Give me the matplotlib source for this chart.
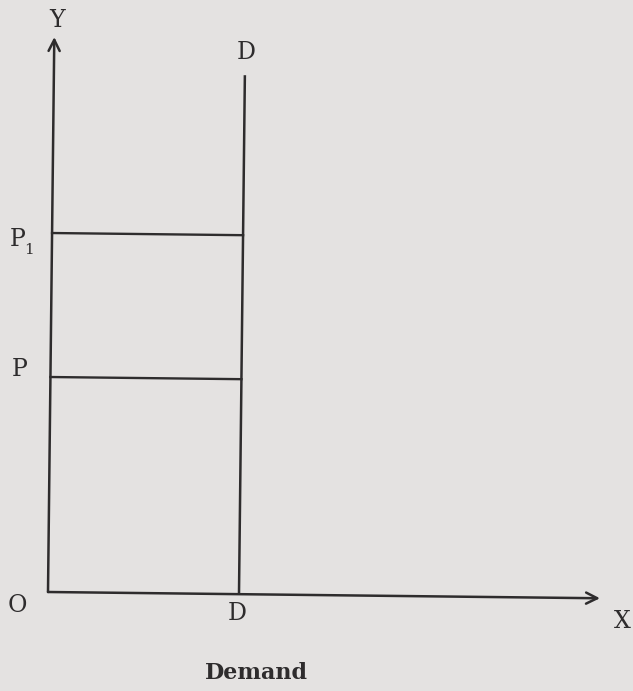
import matplotlib
matplotlib.use("Agg")
import matplotlib.pyplot as plt
from matplotlib.transforms import Affine2D

# ── diagram values (arbitrary units, origin at O) ───────────────────────────
quantity_D = 191      # fixed quantity demanded (vertical demand curve)
price_levels = [215, 359]          # P, P1
price_labels = ["P", "P"]
demand_top = 519
y_axis_top = 555
x_axis_end = 552

plt.rcParams.update({
    "font.family": "DejaVu Serif",
})

bg = "#e4e2e1"
ink = "#2e2c2d"

fig = plt.figure(figsize=(6.33, 6.91), dpi=100, facecolor=bg)
ax = fig.add_axes([0, 0, 1, 1])
ax.set_facecolor(bg)
ax.set_xlim(-48, 585)
ax.set_ylim(-99, 592)
ax.axis("off")

# slight skew like the scanned page
tilt = Affine2D().rotate_deg(-0.65) + ax.transData

# axes with open arrowheads
arrow = dict(arrowstyle="->,head_length=0.8,head_width=0.4", color=ink, lw=1.8,
             shrinkA=0, shrinkB=0)
ax.annotate("", xy=(0, y_axis_top), xytext=(0, 0), xycoords=tilt,
            textcoords=tilt, arrowprops=arrow)
ax.annotate("", xy=(x_axis_end, 0), xytext=(0, 0), xycoords=tilt,
            textcoords=tilt, arrowprops=arrow)

# vertical demand curve DD
ax.plot([quantity_D, quantity_D], [0, demand_top], color=ink, lw=1.8,
        transform=tilt, solid_capstyle="butt")

# price lines
for p in price_levels:
    ax.plot([0, quantity_D], [p, p], color=ink, lw=1.7, transform=tilt)

fs = 17
ax.text(9, 560, "Y", ha="center", va="bottom", fontsize=fs, color=ink)
ax.text(198, 528, "D", ha="center", va="bottom", fontsize=fs, color=ink)
ax.text(-30, price_levels[1] - 6, price_labels[1], ha="center", va="center",
        fontsize=fs, color=ink)
ax.text(-19, price_levels[1] - 17, "1", ha="center", va="center",
        fontsize=11, color=ink)
ax.text(-28, price_levels[0] + 8, price_labels[0], ha="center", va="center",
        fontsize=fs, color=ink)
ax.text(-31, -14, "O", ha="center", va="center", fontsize=fs, color=ink)
ax.text(189, -22, "D", ha="center", va="center", fontsize=fs, color=ink)
ax.text(574, -29, "X", ha="center", va="center", fontsize=fs, color=ink)
ax.text(208, -81, "Demand", ha="center", va="center", fontsize=16,
        fontweight="bold", color=ink)

plt.savefig("out.png", dpi=100, facecolor=bg)
plt.close()
